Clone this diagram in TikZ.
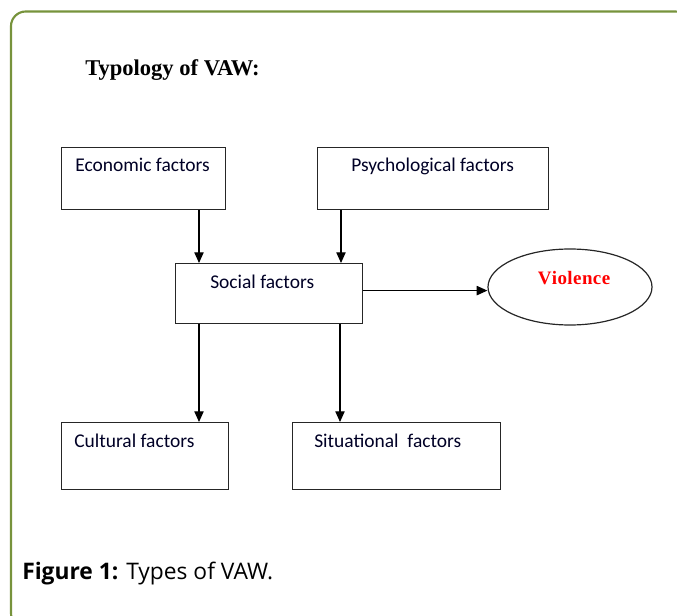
\documentclass[tikz,border=0pt]{standalone}
\usepackage{fontspec}
\setmainfont{Liberation Serif}
\newfontfamily\boxfont{Carlito}
\newfontfamily\capfont{Open Sans}
\usetikzlibrary{arrows.meta,shapes.geometric}
\definecolor{frameolive}{RGB}{119,147,60}
\definecolor{violred}{RGB}{255,0,0}
\tikzset{
  factorbox/.style={draw=black!85, line width=0.9pt, fill=white, rectangle, inner sep=0pt, anchor=north west},
  factortext/.style={anchor=base west, inner sep=0pt, font=\boxfont\fontsize{14.6}{16}\selectfont, text=black!85!blue},
  arr/.style={draw=black, line width=0.8pt, -{Triangle[length=8pt,width=7pt]}},
}
\begin{document}
\begin{tikzpicture}[x=0.75pt,y=-0.75pt]
\useasboundingbox (0,0) rectangle (677,616);
\begin{scope}
\clip (0,0) rectangle (677,616);
\draw[frameolive, line width=1.6pt, rounded corners=11pt] (11,11.5) rectangle (690,628);
\end{scope}

\node[anchor=base west, inner sep=0pt, font=\bfseries\fontsize{16.9}{20}\selectfont] (title) at (85,76) {Typology of VAW:};

\node[factorbox, minimum width=123pt, minimum height=46.5pt] (eco) at (61,147) {};
\node[factorbox, minimum width=173.25pt, minimum height=46.5pt] (psy) at (317,147) {};
\node[factorbox, minimum width=140.25pt, minimum height=45pt] (soc) at (175,263) {};
\node[factorbox, minimum width=125.25pt, minimum height=50.25pt] (cul) at (61,422) {};
\node[factorbox, minimum width=156pt, minimum height=50.25pt] (sit) at (292,422) {};
\node[draw=black!85, line width=0.9pt, ellipse, minimum width=123pt, minimum height=57pt, inner sep=0pt] (viol) at (570,287) {};

\node[factortext] (ecot) at (75,172) {Economic factors};
\node[factortext] (psyt) at (351,172) {Psychological factors};
\node[factortext] (soct) at (210,288) {Social factors};
\node[factortext] (cult) at (74,447) {Cultural factors};
\node[factortext] (sitt) at (314,447) {Situational\ \ factors};
\node[anchor=base, inner sep=0pt, text=violred, font=\bfseries\fontsize{14.25}{16}\selectfont] (violt) at (574,285) {V\kern0.3pt i\kern0.3pt o\kern0.3pt l\kern0.3pt e\kern0.3pt n\kern0.3pt c\kern0.3pt e};

\draw[arr] ([xshift=103.5pt]eco.south west) -- ([xshift=103.5pt]eco.south west |- soc.north);
\draw[arr] ([xshift=18pt]psy.south west) -- ([xshift=18pt]psy.south west |- soc.north);
\draw[arr] ([yshift=2.25pt]soc.east) -- ([yshift=2.25pt]soc.east -| viol.west);
\draw[arr] ([xshift=18pt]soc.south west) -- ([xshift=18pt]soc.south west |- cul.north);
\draw[arr] ([xshift=123.75pt]soc.south west) -- ([xshift=123.75pt]soc.south west |- sit.north);

\node[anchor=base west, inner sep=0pt, font=\capfont\fontsize{17.1}{20}\selectfont] (cap) at (22,579) {\textbf{Figure 1:} Types of VAW.};
\end{tikzpicture}
\end{document}
